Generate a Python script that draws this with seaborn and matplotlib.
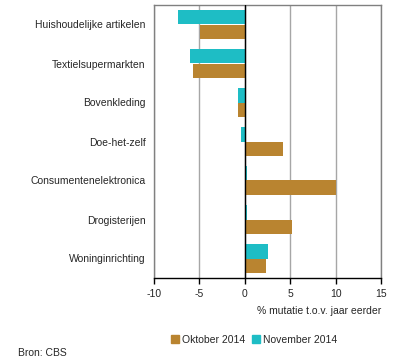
import pandas as pd
import matplotlib
matplotlib.use("Agg")
import matplotlib.pyplot as plt
import seaborn as sns
from matplotlib.patches import Patch

categories = ["Huishoudelijke artikelen", "Textielsupermarkten", "Bovenkleding",
              "Doe-het-zelf", "Consumentenelektronica", "Drogisterijen",
              "Woninginrichting"]
oktober = [-4.9, -5.7, -0.8, 4.2, 10.0, 5.2, 2.3]
november = [-7.4, -6.0, -0.8, -0.4, 0.2, 0.2, 2.5]
series = ["Oktober 2014", "November 2014"]
xticks = [-10, -5, 0, 5, 10, 15]

colors = {"Oktober 2014": "#b98430", "November 2014": "#1ebdc5"}

df = pd.concat([
    pd.DataFrame({"cat": categories, "val": oktober, "serie": series[0]}),
    pd.DataFrame({"cat": categories, "val": november, "serie": series[1]}),
])

sns.set_style("white")
plt.rcParams["font.family"] = ["Liberation Sans", "DejaVu Sans"]
plt.rcParams["font.size"] = 7.5

fig = plt.figure(figsize=(3.96, 3.59), dpi=100)
ax = fig.add_axes([154 / 396, 1 - 278 / 359, 227 / 396, 273 / 359])

sns.barplot(data=df, y="cat", x="val", hue="serie",
            hue_order=[series[1], series[0]], order=categories,
            palette=colors, width=0.72, saturation=1, linewidth=0,
            ax=ax, legend=False, zorder=3)

ax.set_xlim(-10, 15)
ax.set_xticks(xticks)
ax.set_xticklabels([str(t) for t in xticks], fontsize=7.5)
ax.grid(axis="x", color="#a6a6a6", linewidth=1, zorder=0)
ax.set_axisbelow(True)
ax.axvline(0, color="black", linewidth=1, zorder=5)

for s in ["top", "left", "right"]:
    ax.spines[s].set_color("#808080")
    ax.spines[s].set_linewidth(1)
ax.spines["bottom"].set_color("black")
ax.spines["bottom"].set_linewidth(1)
ax.tick_params(axis="x", direction="out", length=4, width=1, color="black",
               bottom=True, pad=4)
ax.tick_params(axis="y", length=0, pad=6, labelsize=7.5)
ax.set_ylabel("")
ax.set_xlabel("% mutatie t.o.v. jaar eerder", fontsize=7.5, loc="right", labelpad=5)

handles = [Patch(color=colors[s]) for s in series]
fig.legend(handles, series, loc="center", bbox_to_anchor=(254 / 396, 1 - 340 / 359),
           ncol=2, frameon=False, fontsize=7.5, handlelength=0.8, handleheight=0.8,
           handletextpad=0.3, columnspacing=0.6)
fig.text(18 / 396, 1 - 353 / 359, "Bron: CBS", fontsize=7.5, va="center")

fig.savefig("out.png", dpi=100)
